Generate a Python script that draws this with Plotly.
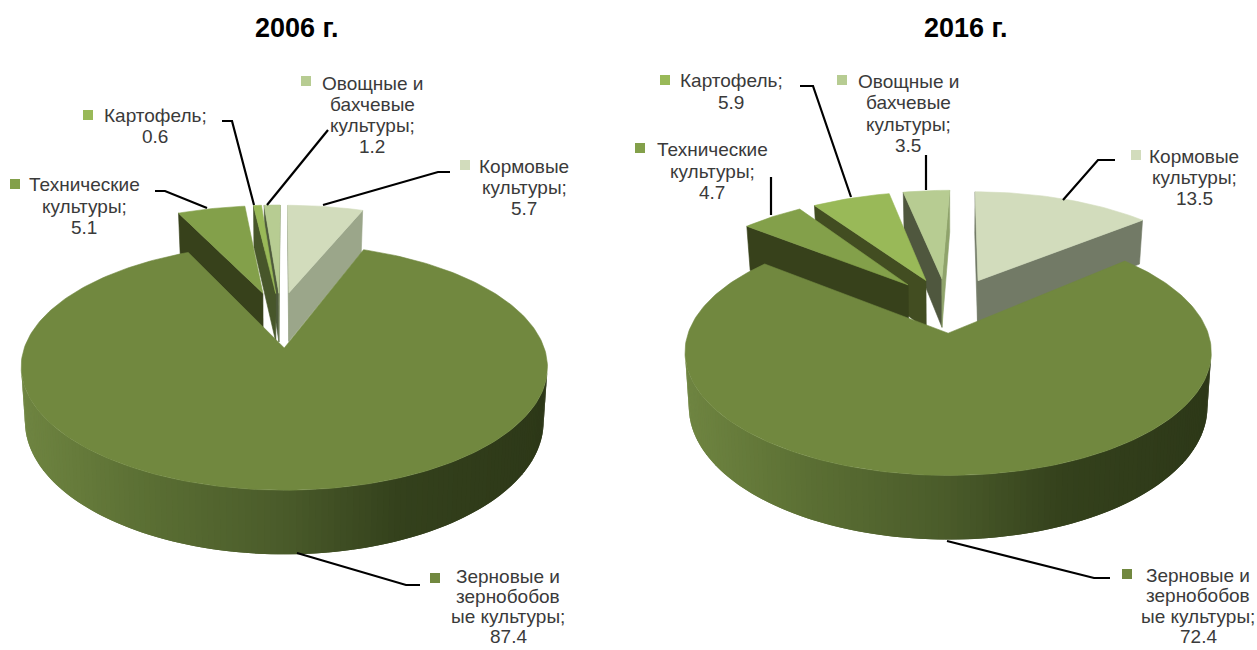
import math
import plotly.graph_objects as go

# ---------- data ----------
categories = ["Кормовые культуры", "Зерновые и зернобобовые культуры",
              "Технические культуры", "Картофель", "Овощные и бахчевые культуры"]
values_2006 = [5.7, 87.4, 5.1, 0.6, 1.2]
values_2016 = [13.5, 72.4, 4.7, 5.9, 3.5]
titles = ["2006 г.", "2016 г."]

# ---------- style ----------
TOP = ["#d2dcbc", "#71883f", "#83a04a", "#99b958", "#b7cc92"]
END_FACE = [["#9ba68a", "#2d3818", "#37411b", "#47562a", "#77875c"],
            ["#727a66", "#2d3818", "#37411b", "#424d21", "#8fa36b"]]
START_FACE = [["#9ba68a", "#2d3818", "#37411b", "#47562a", "#4e5a3c"],
              ["#727a66", "#2d3818", "#37411b", "#424d21", "#4f573e"]]
WALL_STOPS = [(0, (111, 133, 65)), (.25, (90, 110, 51)), (.5, (74, 91, 42)),
              (.72, (52, 65, 28)), (1, (45, 56, 24))]
DRAW_ORDER = [0, 4, 3, 2, 1]
TXT = "#3a3a3a"
FONT = "Liberation Sans, Arial, sans-serif"
FS = 19

# ---------- projection settings ----------
CX = [282, 947]
SLICE_DX = [[-3, 0, 0, 0, 0], [8, 0, 8, 8, 8]]     # sideways shift of the exploded wedges
APEX_DX = [[0, 0, -4, -1, -1], [0, 0, -9, -7, -7]]  # correction of the wedge tips
APEX_DY = [[-4, 0, -4, -3, -3], [-3, 0, -3, -3, -3]]
Y0 = [321.3, 306.5]
R, A, K, E, H, M, XB = 251, 112, .15, .23, 50, -.01, .975


def project(i, xt, yt, low, dx=0):
    w = 1 - K * yt + (M if low else 0)
    x = R * xt / w * (XB if low else 1)
    y = (A * yt + (H if low else 0)) / w
    return CX[i] + dx + x, Y0[i] + y


def area(p):
    return sum(p[a][0] * p[(a + 1) % len(p)][1] - p[(a + 1) % len(p)][0] * p[a][1]
               for a in range(len(p))) / 2


def wall_color(f):
    f = min(max(f, 0), 1)
    for (a, ca), (b, cb) in zip(WALL_STOPS, WALL_STOPS[1:]):
        if f <= b:
            t = (f - a) / (b - a)
            return "rgb(%d,%d,%d)" % tuple(round(ca[k] + (cb[k] - ca[k]) * t) for k in range(3))
    return "rgb(45,56,24)"


traces = []


def poly(pts, color, name, lw=.6):
    traces.append(go.Scatter(
        x=[p[0] for p in pts] + [pts[0][0]], y=[p[1] for p in pts] + [pts[0][1]],
        mode="lines", fill="toself", fillcolor=color,
        line=dict(color=color, width=lw), hoverinfo="text", text=name, showlegend=False))


def draw_pie(i, values):
    total = sum(values)
    starts, cum = [], 0
    for v in values:
        starts.append(cum / total * 2 * math.pi)
        cum += v
    for s in DRAW_ORDER:
        dx = SLICE_DX[i][s]
        a0 = starts[s]
        a1 = a0 + values[s] / total * 2 * math.pi
        mid = (a0 + a1) / 2
        ox, oy = E * math.sin(mid), -E * math.cos(mid)
        n = max(2, int((a1 - a0) / math.radians(1.2)))
        angs = [a0 + (a1 - a0) * j / n for j in range(n + 1)]
        top = [project(i, ox + math.sin(a), oy - math.cos(a), False, dx) for a in angs]
        bot = [project(i, ox + math.sin(a), oy - math.cos(a), True, dx) for a in angs]
        ap_t = project(i, ox, oy, False, dx + APEX_DX[i][s])
        ap_b = project(i, ox, oy, True, dx + APEX_DX[i][s])
        ap_t = (ap_t[0], ap_t[1] + APEX_DY[i][s])
        ap_b = (ap_b[0], ap_b[1] + APEX_DY[i][s])
        name = f"{categories[s]}; {values[s]}"
        # radial faces
        q = [ap_t, top[0], bot[0], ap_b]
        if area(q) < 0:
            poly(q, START_FACE[i][s], name)
        q = [ap_t, top[-1], bot[-1], ap_b]
        if area(q) > 0:
            poly(q, END_FACE[i][s], name)
        # outer wall facets, each overlapping the next one to hide seams
        for j in range(n):
            q = [top[j], top[j + 1], bot[j + 1], bot[j]]
            if area(q) < 0:
                k = min(j + 2, n)
                f = ((q[0][0] + q[1][0]) / 2 - CX[i] + R * 1.05) / (2 * R * 1.05)
                poly([top[j], top[k], bot[k], bot[j]], wall_color(f), name, lw=0)
        poly([ap_t] + top, TOP[s], name)


draw_pie(0, values_2006)
draw_pie(1, values_2016)

# ---------- leader lines (page layout) ----------
LEADERS = [
    [(155, 191), (165, 191), (207, 208)],
    [(222, 121), (232, 121), (254, 205)],
    [(328, 130), (267, 205)],
    [(450, 172), (438, 172), (323, 205)],
    [(297, 553), (406, 585), (420, 585)],
    [(771, 177), (771, 215)],
    [(800, 86), (813, 86), (851, 197)],
    [(926, 155), (926, 190)],
    [(1115, 160), (1098, 160), (1063, 200)],
    [(947, 541), (1094, 578), (1110, 578)],
]
for L in LEADERS:
    traces.append(go.Scatter(x=[p[0] for p in L], y=[p[1] for p in L], mode="lines",
                             line=dict(color="black", width=2.2), hoverinfo="skip", showlegend=False))

# ---------- labels ----------
LABELS = [
    (4, (306, 81), 372, [83, 104, 125, 146], ["Овощные и", "бахчевые", "культуры;", "1.2"]),
    (3, (88, 115), 155, [115, 136], ["Картофель;", "0.6"]),
    (2, (15, 184), 84, [184, 206, 227], ["Технические", "культуры;", "5.1"]),
    (0, (465, 165), 524, [166, 187, 208], ["Кормовые", "культуры;", "5.7"]),
    (1, (435, 578), 508, [576, 596, 616, 636], ["Зерновые и", "зернобобов", "ые культуры;", "87.4"]),
    (3, (665, 80), 731, [80, 102], ["Картофель;", "5.9"]),
    (4, (842, 80), 908, [81, 102, 124, 145], ["Овощные и", "бахчевые", "культуры;", "3.5"]),
    (2, (640, 148), 712, [149, 171, 192], ["Технические", "культуры;", "4.7"]),
    (0, (1136, 155), 1194, [156, 177, 198], ["Кормовые", "культуры;", "13.5"]),
    (1, (1127, 574), 1198, [575, 595, 616, 636], ["Зерновые и", "зернобобов", "ые культуры;", "72.4"]),
]
annotations = []
for s, mk, cx, ys, lines in LABELS:
    traces.append(go.Scatter(x=[mk[0]], y=[mk[1]], mode="markers",
                             marker=dict(symbol="square", size=10, color=TOP[s]),
                             hoverinfo="skip", showlegend=False))
    for y, t in zip(ys, lines):
        annotations.append(dict(x=cx, y=y, text=t, showarrow=False, xref="x", yref="y",
                                xanchor="center", yanchor="middle",
                                font=dict(family=FONT, size=FS, color=TXT)))
for x, t in zip([297, 966], titles):
    annotations.append(dict(x=x, y=28, text=t, showarrow=False, xref="x", yref="y",
                            xanchor="center", yanchor="middle",
                            font=dict(family=FONT, size=27, color="black", weight="bold")))

fig = go.Figure(traces)
fig.update_layout(
    width=1257, height=650, margin=dict(l=0, r=0, t=0, b=0),
    paper_bgcolor="white", plot_bgcolor="white", showlegend=False, annotations=annotations,
    xaxis=dict(range=[0, 1257], visible=False, fixedrange=True),
    yaxis=dict(range=[650, 0], visible=False, fixedrange=True),
)
fig.write_html("out.html", config={"displayModeBar": False},
               post_script="document.body.style.margin='0';document.documentElement.style.overflow='hidden';")
